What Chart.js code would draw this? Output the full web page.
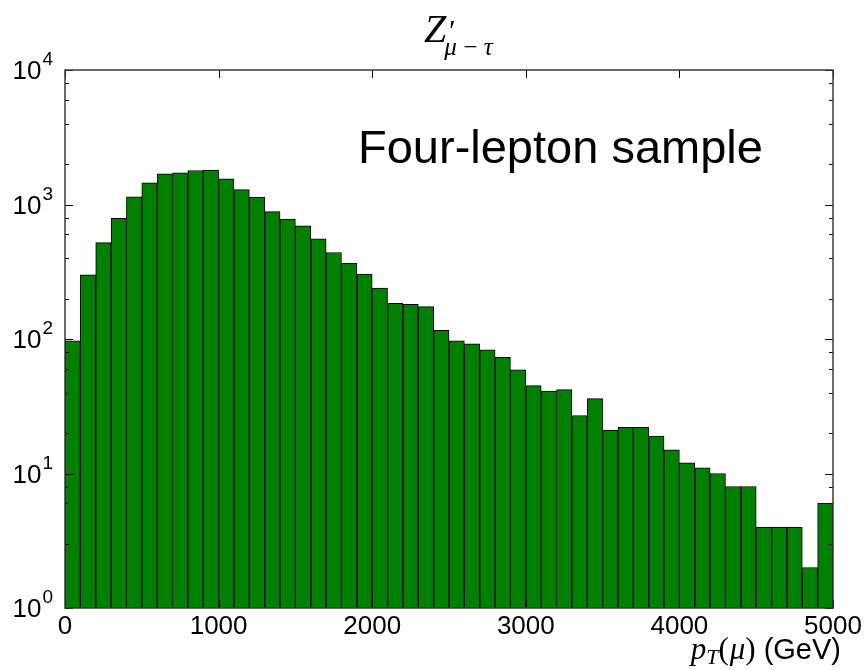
<!DOCTYPE html>
<html lang="en">
<head>
    <meta charset="UTF-8">
    <title>Z' mu-tau pT(mu) histogram</title>
    <script src="https://cdn.jsdelivr.net/npm/chart.js"></script>
    <style>
        html, body { margin: 0; padding: 0; background: #fff; }
        #wrap { width: 867px; height: 670px; }
    </style>
</head>
<body>
    <div id="wrap"><canvas id="hist"></canvas></div>
    <script>
        // bin centres (GeV), 100 GeV wide bins
        const binCenters = [
            50, 150, 250, 350, 450, 550, 650, 750, 850, 950,
            1050, 1150, 1250, 1350, 1450, 1550, 1650, 1750, 1850, 1950,
            2050, 2150, 2250, 2350, 2450, 2550, 2650, 2750, 2850, 2950,
            3050, 3150, 3250, 3350, 3450, 3550, 3650, 3750, 3850, 3950,
            4050, 4150, 4250, 4350, 4450, 4550, 4650, 4750, 4850, 4950
        ];
        // events per bin
        const counts = [
            97, 300, 520, 790, 1140, 1450, 1690, 1720, 1790, 1800,
            1550, 1290, 1130, 885, 780, 695, 555, 440, 365, 304,
            239, 184, 181, 174, 116, 97, 92, 83, 73, 59,
            45, 41, 42, 27, 36, 21, 22, 22, 19, 15,
            12, 11, 10, 8, 8, 4, 4, 4, 2, 6
        ];
        const xTickValues = [0, 1000, 2000, 3000, 4000, 5000];
        const yTickExponents = [0, 1, 2, 3, 4];
        const sampleLabel = 'Four-lepton sample';

        const sans = '"Liberation Sans", Arial, sans-serif';
        const serif = '"Liberation Serif", "Times New Roman", serif';

        // frame, inward ticks, tick labels, title and annotation
        const decorations = {
            id: 'decorations',
            afterDatasetsDraw(chart) {
                const ctx = chart.ctx;
                const { left, right, top, bottom } = chart.chartArea;
                const xs = chart.scales.x, ys = chart.scales.y;
                ctx.save();

                // ticks
                ctx.strokeStyle = '#000';
                ctx.lineWidth = 1;
                ys.ticks.forEach(t => {
                    const v = t.value;
                    const py = Math.round(ys.getPixelForValue(v)) + 0.5;
                    if (py < top - 1 || py > bottom + 1) return;
                    const major = Math.abs(Math.log10(v) - Math.round(Math.log10(v))) < 1e-9;
                    const len = major ? 8 : 4;
                    ctx.beginPath();
                    ctx.moveTo(left, py); ctx.lineTo(left + len, py);
                    ctx.moveTo(right, py); ctx.lineTo(right - len, py);
                    ctx.stroke();
                });
                xTickValues.forEach(v => {
                    const px = Math.round(xs.getPixelForValue(v)) + 0.5;
                    ctx.beginPath();
                    ctx.moveTo(px, top); ctx.lineTo(px, top + 8);
                    ctx.moveTo(px, bottom); ctx.lineTo(px, bottom - 8);
                    ctx.stroke();
                });

                // frame
                ctx.strokeStyle = '#3a3a3a';
                ctx.lineWidth = 1.5;
                ctx.strokeRect(left, top, right - left, bottom - top);

                ctx.fillStyle = '#000';

                // x tick labels
                ctx.font = '26px ' + sans;
                ctx.textAlign = 'center';
                ctx.textBaseline = 'alphabetic';
                xTickValues.forEach(v => {
                    ctx.fillText(String(v), xs.getPixelForValue(v), bottom + 26);
                });

                // y tick labels 10^n
                yTickExponents.forEach(n => {
                    const py = ys.getPixelForValue(Math.pow(10, n));
                    ctx.font = '19px ' + sans;
                    ctx.textAlign = 'right';
                    const expW = ctx.measureText(String(n)).width;
                    ctx.fillText(String(n), left - 12, py - 5);
                    ctx.font = '26px ' + sans;
                    ctx.fillText('10', left - 13 - expW, py + 9);
                });

                // title Z'_{mu-tau}
                const cx = (left + right) / 2;
                ctx.textAlign = 'left';
                ctx.font = 'italic 40px ' + serif;
                const zx = cx - 25;
                ctx.fillText('Z', zx, 42);
                const zw = ctx.measureText('Z').width;
                ctx.font = 'italic 30px ' + serif;
                ctx.fillText('\u2032', zx + zw + 1, 40);
                ctx.font = 'italic 25px ' + serif;
                ctx.fillText('\u03BC\u2009\u2212\u2009\u03C4', zx + zw - 2, 55);

                // annotation
                ctx.font = '47px ' + sans;
                ctx.fillText(sampleLabel, 358, 163);

                // x axis label  p_T(mu) (GeV)
                const base = 659;
                let xr = right + 8;
                ctx.textAlign = 'right';
                ctx.font = '29px ' + sans;
                ctx.fillText(' (GeV)', xr, base);
                xr -= ctx.measureText(' (GeV)').width;
                ctx.font = '31px ' + serif;
                ctx.fillText(')', xr, base);
                xr -= ctx.measureText(')').width;
                ctx.font = 'italic 31px ' + serif;
                ctx.fillText('\u03BC', xr, base);
                xr -= ctx.measureText('\u03BC').width + 1;
                ctx.font = '31px ' + serif;
                ctx.fillText('(', xr, base);
                xr -= ctx.measureText('(').width;
                ctx.font = 'italic 22px ' + serif;
                ctx.fillText('T', xr, base + 5);
                xr -= ctx.measureText('T').width;
                ctx.font = 'italic 31px ' + serif;
                ctx.fillText('p', xr, base);

                ctx.restore();
            }
        };

        new Chart(document.getElementById('hist'), {
            type: 'bar',
            data: {
                datasets: [{
                    data: binCenters.map((c, i) => ({ x: c, y: counts[i] })),
                    backgroundColor: '#008000',
                    borderColor: '#000',
                    borderWidth: 1,
                    borderSkipped: 'start',
                    barPercentage: 1.0,
                    categoryPercentage: 1.0
                }]
            },
            options: {
                responsive: true,
                maintainAspectRatio: false,
                animation: false,
                layout: { padding: { left: 65, right: 34, top: 70, bottom: 62 } },
                plugins: {
                    legend: { display: false },
                    tooltip: { enabled: false }
                },
                scales: {
                    x: {
                        type: 'linear',
                        min: 0,
                        max: 5000,
                        offset: false,
                        display: false
                    },
                    y: {
                        type: 'logarithmic',
                        min: 1,
                        max: 10000,
                        display: false
                    }
                }
            },
            plugins: [decorations]
        });
    </script>
</body>
</html>
